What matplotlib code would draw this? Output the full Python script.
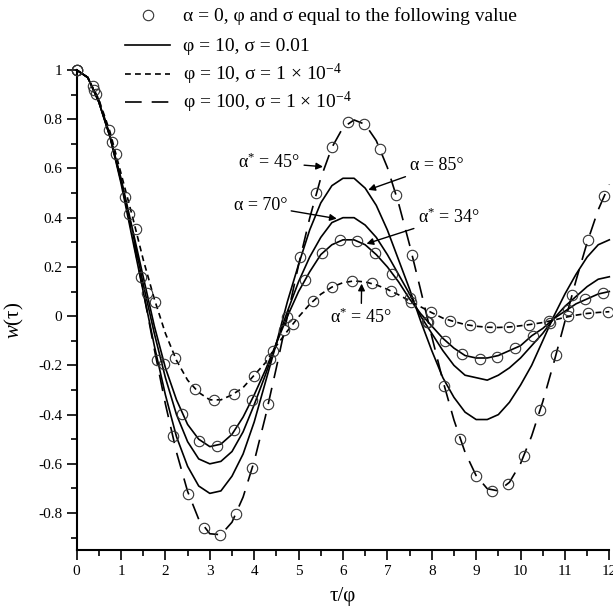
import numpy as np
import matplotlib
matplotlib.use('Agg')
import matplotlib.pyplot as plt
from matplotlib.lines import Line2D

plt.rcParams['font.family'] = ['Liberation Serif', 'DejaVu Serif']
plt.rcParams['mathtext.fontset'] = 'custom'
plt.rcParams['mathtext.rm'] = 'Liberation Serif'
plt.rcParams['mathtext.it'] = 'Liberation Serif:italic'
plt.rcParams['axes.unicode_minus'] = False

# curves, read every 0.25 on tau/phi
tau = np.linspace(0, 12, 49)
w_phi100 = [1, 0.969, 0.879, 0.736, 0.55, 0.334, 0.101, -0.134, -0.357, -0.553, -0.712, -0.825,
            -0.884, -0.888, -0.837, -0.735, -0.59, -0.41, -0.209, 0.001, 0.208, 0.398, 0.561, 0.685,
            0.766, 0.797, 0.779, 0.713, 0.604, 0.46, 0.29, 0.106, -0.082, -0.262, -0.422, -0.553,
            -0.648, -0.701, -0.71, -0.675, -0.599, -0.487, -0.348, -0.189, -0.021, 0.145, 0.299,
            0.432, 0.535]
w_a85 = [1, 0.97, 0.87, 0.73, 0.54, 0.32, 0.10, -0.12, -0.32, -0.49, -0.61, -0.69, -0.72, -0.71,
         -0.65, -0.56, -0.43, -0.27, -0.11, 0.06, 0.21, 0.35, 0.46, 0.53, 0.56, 0.56, 0.52, 0.45,
         0.35, 0.23, 0.11, -0.02, -0.14, -0.25, -0.33, -0.39, -0.42, -0.42, -0.40, -0.35, -0.28,
         -0.20, -0.10, 0.0, 0.09, 0.17, 0.24, 0.29, 0.31]
w_a70 = [1, 0.97, 0.87, 0.73, 0.55, 0.35, 0.13, -0.07, -0.25, -0.40, -0.51, -0.58, -0.60, -0.59,
         -0.55, -0.47, -0.36, -0.24, -0.11, 0.02, 0.14, 0.24, 0.32, 0.38, 0.40, 0.40, 0.37, 0.32,
         0.25, 0.17, 0.09, 0.0, -0.07, -0.14, -0.20, -0.24, -0.25, -0.26, -0.24, -0.21, -0.17,
         -0.12, -0.07, -0.01, 0.04, 0.08, 0.12, 0.15, 0.16]
w_a34 = [1, 0.97, 0.87, 0.73, 0.56, 0.36, 0.16, -0.04, -0.21, -0.34, -0.44, -0.50, -0.53, -0.52,
         -0.48, -0.41, -0.32, -0.22, -0.11, 0.0, 0.10, 0.18, 0.25, 0.29, 0.31, 0.31, 0.29, 0.25,
         0.20, 0.14, 0.07, 0.01, -0.04, -0.09, -0.13, -0.16, -0.17, -0.17, -0.16, -0.14, -0.12,
         -0.08, -0.05, -0.01, 0.02, 0.05, 0.07, 0.09, 0.10]
w_phi10 = [1, 0.97, 0.88, 0.75, 0.58, 0.41, 0.23, 0.07, -0.07, -0.18, -0.26, -0.31, -0.34, -0.34,
           -0.32, -0.29, -0.24, -0.19, -0.12, -0.06, -0.003, 0.048, 0.089, 0.118, 0.136, 0.143,
           0.139, 0.127, 0.109, 0.087, 0.062, 0.038, 0.014, -0.008, -0.022, -0.034, -0.041,
           -0.045, -0.046, -0.044, -0.039, -0.033, -0.026, -0.016, -0.005, 0.004, 0.011, 0.015,
           0.018]

# alpha = 0 points
t_c100 = [0, 0.36, 0.72, 1.08, 1.44, 1.8, 2.16, 2.52, 2.88, 3.24, 3.6, 3.96, 4.32, 4.68, 5.04,
          5.4, 5.76, 6.12, 6.48, 6.84, 7.2, 7.56, 7.92, 8.28, 8.64, 9.0, 9.36, 9.72, 10.08,
          10.44, 10.8, 11.16, 11.52, 11.88]
w_c100 = [1, 0.936, 0.756, 0.484, 0.158, -0.18, -0.486, -0.723, -0.862, -0.889, -0.802, -0.615,
          -0.356, -0.058, 0.24, 0.5, 0.689, 0.787, 0.782, 0.679, 0.491, 0.247, -0.023, -0.282,
          -0.5, -0.648, -0.711, -0.682, -0.567, -0.383, -0.156, 0.086, 0.31, 0.489]
t_c001 = [0, 0.395, 0.79, 1.185, 1.58, 1.975, 2.37, 2.765, 3.16, 3.555, 3.95, 4.345, 4.74,
          5.135, 5.53, 5.925, 6.32, 6.715, 7.11, 7.505, 7.9, 8.295, 8.69, 9.085, 9.48, 9.875,
          10.27, 10.665, 11.06, 11.455, 11.85]
w_c001 = [1, 0.917, 0.706, 0.415, 0.093, -0.193, -0.396, -0.506, -0.526, -0.464, -0.341, -0.176,
          -0.005, 0.148, 0.255, 0.309, 0.306, 0.255, 0.172, 0.072, -0.023, -0.103, -0.155, -0.175,
          -0.166, -0.131, -0.082, -0.026, 0.026, 0.068, 0.092]
t_c10 = [0, 0.443, 0.886, 1.329, 1.772, 2.215, 2.658, 3.101, 3.544, 3.987, 4.43, 4.873, 5.316,
         5.759, 6.202, 6.645, 7.088, 7.531, 7.974, 8.417, 8.86, 9.303, 9.746, 10.189, 10.632,
         11.075, 11.518, 11.961]
w_c10 = [1, 0.904, 0.658, 0.353, 0.059, -0.169, -0.297, -0.34, -0.317, -0.244, -0.142, -0.033,
         0.061, 0.119, 0.142, 0.133, 0.102, 0.059, 0.016, -0.02, -0.038, -0.045, -0.044, -0.035,
         -0.021, 0.0, 0.012, 0.018]

yticks = [-0.8, -0.6, -0.4, -0.2, 0, 0.2, 0.4, 0.6, 0.8, 1]
ylabels = ['-0.8', '-0.6', '-0.4', '-0.2', '0', '0.2', '0.4', '0.6', '0.8', '1']

fig = plt.figure(figsize=(6.13, 6.08), dpi=100)
ax = fig.add_axes([0.125, 0.0954, 0.869, 0.7895])
lw = 1.2
short_dash = (0, (3.5, 2.5))
long_dash = (0, (10, 6))
ax.plot(tau, w_phi100, color='k', lw=lw, ls=long_dash, clip_on=False)
ax.plot(tau, w_a85, color='k', lw=lw, clip_on=False)
ax.plot(tau, w_a70, color='k', lw=lw, clip_on=False)
ax.plot(tau, w_a34, color='k', lw=lw, clip_on=False)
ax.plot(tau, w_phi10, color='k', lw=lw, ls=short_dash, clip_on=False)
mk = dict(ls='none', marker='o', ms=7.5, mfc='none', mec='#333333', mew=0.8, clip_on=False, zorder=3)
ax.plot(t_c100, w_c100, **mk)
ax.plot(t_c001, w_c001, **mk)
ax.plot(t_c10, w_c10, **mk)

ax.set_xlim(0, 12)
ax.set_ylim(-0.95, 1)
ax.set_xticks(range(13))
ax.set_xticks(np.arange(0.5, 12, 1), minor=True)
ax.set_yticks(yticks)
ax.set_yticklabels(ylabels)
ax.set_yticks([-0.9, -0.7, -0.5, -0.3, -0.1, 0.1, 0.3, 0.5, 0.7, 0.9], minor=True)
ax.tick_params(which='major', direction='out', length=7, width=1.2, labelsize=11)
ax.tick_params(which='minor', direction='out', length=4, width=1.2)
for s in ['top', 'right']:
    ax.spines[s].set_visible(False)
for s in ['left', 'bottom']:
    ax.spines[s].set_linewidth(1.5)

fig.text(343/613, 1-597/608, 'τ/φ', fontsize=15, ha='center', va='center')
fig.text(14/613, 1-320/608, '$w$(τ)', fontsize=15, rotation=90, ha='center', va='center')

# legend drawn row by row
rows = [15, 45, 74, 102]
labels = ['α = 0, φ and σ equal to the following value', 'φ = 10, σ = 0.01',
          'φ = 10, σ = 1 × 10$^{-4}$', 'φ = 100, σ = 1 × 10$^{-4}$']
styles = [None, '-', short_dash, long_dash]
for y, lab, st in zip(rows, labels, styles):
    fy = 1 - y/608
    if st is None:
        fig.add_artist(Line2D([148/613], [fy], transform=fig.transFigure, **mk))
    else:
        fig.add_artist(Line2D([125/613, 170/613], [fy, fy], transform=fig.transFigure,
                              color='k', lw=lw, ls=st))
    fig.text(183/613, 1 - (y + 6)/608, lab, fontsize=14, ha='left', va='baseline')

arr = dict(arrowstyle='-|>', color='k', lw=1, mutation_scale=10, shrinkA=1, shrinkB=0)
notes = [('α$^{*}$ = 45°', (5.55, 0.607), (5.03, 0.625), 'right', 'center'),
         ('α = 85°', (6.57, 0.513), (7.5, 0.611), 'left', 'center'),
         ('α = 70°', (5.86, 0.396), (4.74, 0.449), 'right', 'center'),
         ('α$^{*}$ = 34°', (6.53, 0.294), (7.69, 0.402), 'left', 'center'),
         ('α$^{*}$ = 45°', (6.42, 0.132), (6.41, 0.035), 'center', 'top')]
for t, xy, xyt, ha, va in notes:
    ax.annotate(t, xy=xy, xytext=xyt, ha=ha, va=va, fontsize=13, arrowprops=arr)

fig.savefig('out.png', dpi=100)
